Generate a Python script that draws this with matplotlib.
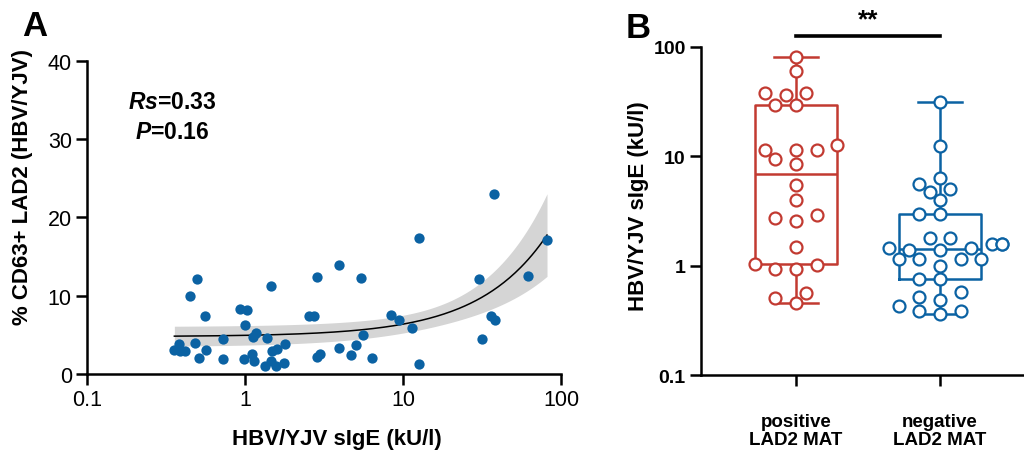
import matplotlib
matplotlib.use("Agg")
import matplotlib.pyplot as plt
import numpy as np

plt.rcParams['font.family'] = ['Liberation Sans', 'DejaVu Sans']
plt.rcParams['mathtext.fontset'] = 'custom'
plt.rcParams['mathtext.bfit'] = 'Liberation Sans:italic:bold'
plt.rcParams['mathtext.it'] = 'Liberation Sans:italic'
plt.rcParams['mathtext.rm'] = 'Liberation Sans'

# panel A: sIgE vs % CD63+ LAD2
sige_a = [37.8, 12.7, 81.5, 3.95, 0.50, 1.47, 2.87, 5.45, 30.1, 61.5,
          0.45, 0.56, 0.93, 1.03, 2.53, 2.73, 8.43, 9.39, 11.4, 36.1,
          38.4, 31.8, 12.6, 1.0, 1.17, 1.12, 1.37, 0.72, 0.48, 0.38,
          0.357, 0.388, 0.419, 0.57, 0.51, 0.73, 0.98, 1.11, 1.14, 1.33,
          1.45, 1.56, 1.77, 1.48, 1.59, 1.78, 2.87, 2.98, 3.95, 4.7,
          5.02, 5.56, 6.34]
cd63 = [23.0, 17.4, 17.1, 13.9, 12.1, 11.3, 12.4, 12.3, 12.2, 12.5,
        10.0, 7.4, 8.3, 8.2, 7.4, 7.4, 7.5, 6.9, 5.9, 7.4,
        6.9, 4.5, 1.3, 6.2, 5.3, 4.7, 4.6, 4.5, 3.9, 3.85,
        3.1, 3.0, 3.0, 3.05, 2.1, 1.86, 1.9, 2.54, 1.6, 0.97,
        1.7, 1.06, 1.44, 2.96, 3.17, 3.8, 2.16, 2.5, 3.35, 2.45,
        3.64, 5.0, 1.99]
rs_text = "0.33"
p_text = "0.16"

# panel B: sIgE by MAT result
groups = ["positive\nLAD2 MAT", "negative\nLAD2 MAT"]
positive = [80.4, 60, 37.9, 37.9, 36, 29.4, 29.4, 11.4, 11.4, 11.4, 12.6,
            9.4, 8.4, 5.4, 3.94, 2.72, 2.57, 2.88, 1.48, 1.03, 1.01, 0.93,
            0.93, 0.564, 0.505, 0.454]
negative = [31.2, 12.4, 6.34, 5.52, 5.0, 4.66, 3.94, 2.96, 2.96, 1.79, 1.78,
            1.58, 1.58, 1.58, 1.44, 1.44, 1.39, 1.39, 1.15, 1.15, 1.15, 1.15,
            0.99, 0.75, 0.75, 0.57, 0.515, 0.487, 0.427, 0.384, 0.384, 0.363]
sig_label = "**"

blue = '#0b62a3'
red = '#c23a31'
lw = 1.8

fig = plt.figure(figsize=(10.24, 4.52), dpi=100)

# ---- panel A
ax = fig.add_axes([0.085, 0.1704, 0.4629, 0.6925])
x = np.array(sige_a)
y = np.array(cd63)
slope, icpt = np.polyfit(x, y, 1)
n = len(x)
resid = y - (icpt + slope * x)
s = np.sqrt(np.sum(resid ** 2) / (n - 2))
sxx = np.sum((x - x.mean()) ** 2)
xf = np.logspace(np.log10(x.min()), np.log10(x.max()), 200)
yf = icpt + slope * xf
se = s * np.sqrt(1 / n + (xf - x.mean()) ** 2 / sxx)
ax.fill_between(xf, yf - 2.007 * se, yf + 2.007 * se, color='#d5d5d5', lw=0, zorder=1)
ax.plot(xf, yf, color='black', lw=1.1, zorder=2)
ax.scatter(x, y, s=55, color=blue, lw=0, zorder=3, clip_on=False)

ax.set_xscale('log')
ax.set_xlim(0.1, 100)
ax.set_ylim(0, 40)
ax.set_xticks([0.1, 1, 10, 100])
ax.set_xticklabels(['0.1', '1', '10', '100'])
ax.set_yticks([0, 10, 20, 30, 40])
ax.minorticks_off()
ax.tick_params(labelsize=15.5, width=lw, length=8, pad=3)
for sp in ['top', 'right']:
    ax.spines[sp].set_visible(False)
for sp in ['left', 'bottom']:
    ax.spines[sp].set_linewidth(lw)
ax.set_xlabel('HBV/YJV sIgE (kU/l)', fontsize=16, fontweight='bold')
ax.xaxis.set_label_coords(0.527, -0.172)
ax.set_ylabel('% CD63+ LAD2 (HBV/YJV)', fontsize=16, fontweight='bold')
ax.yaxis.set_label_coords(-0.114, 0.6)
ax.text(0.18, 0.87, r'$\mathbfit{Rs}$=' + rs_text, transform=ax.transAxes,
        ha='center', va='center', fontsize=16.5, fontweight='bold')
ax.text(0.18, 0.775, r'$\mathbfit{P}$=' + p_text, transform=ax.transAxes,
        ha='center', va='center', fontsize=16.5, fontweight='bold')

# ---- panel B
bx = fig.add_axes([0.6846, 0.1681, 0.3154, 0.7268])
bx.set_yscale('log')
bx.set_ylim(0.1, 100)
bx.set_xlim(-0.66, 1.583)


def swarm(ax, xc, vals, step=10.3, dmin=13.0):
    vals = np.asarray(vals, dtype=float)
    pix = ax.transData.transform(np.column_stack([np.full(len(vals), xc), vals]))
    x0 = pix[0, 0]
    ys = pix[:, 1]
    placed = []
    xs = np.zeros(len(vals))
    for i in np.argsort(vals):
        for k in [0, -1, 1, -2, 2, -3, 3, -4, 4, -5, 5, -6, 6]:
            cx = x0 + k * step
            if all((cx - px) ** 2 + (ys[i] - py) ** 2 >= dmin ** 2 for px, py in placed):
                break
        placed.append((cx, ys[i]))
        xs[i] = cx
    back = ax.transData.inverted().transform(np.column_stack([xs, ys]))
    return back[:, 0]


for pos, vals, col in [(0, positive, red), (1, negative, blue)]:
    v = np.array(vals)
    q1, med, q3 = np.percentile(v, [25, 50, 75], method='weibull')
    stats = [{'med': med, 'q1': q1, 'q3': q3, 'whislo': v.min(), 'whishi': v.max(), 'fliers': []}]
    bx.bxp(stats, positions=[pos], widths=0.57, capwidths=0.31, showfliers=False,
           boxprops=dict(color=col, lw=lw), medianprops=dict(color=col, lw=lw),
           whiskerprops=dict(color=col, lw=lw), capprops=dict(color=col, lw=lw),
           manage_ticks=False)
    xs = swarm(bx, pos, v)
    bx.plot(xs, v, 'o', ms=8.6, mfc='white', mec=col, mew=1.6, ls='none', zorder=4, clip_on=False)

bx.set_xticks([0, 1])
bx.set_xticklabels(groups, fontsize=13.5, fontweight='bold', linespacing=1.15)
bx.set_yticks([0.1, 1, 10, 100])
bx.set_yticklabels(['0.1', '1', '10', '100'], fontsize=14, fontweight='bold')
bx.minorticks_off()
bx.tick_params(axis='y', width=lw, length=8, pad=3)
bx.tick_params(axis='x', width=lw, length=8, pad=19)
for sp in ['top', 'right']:
    bx.spines[sp].set_visible(False)
for sp in ['left', 'bottom']:
    bx.spines[sp].set_linewidth(lw)
bx.set_ylabel('HBV/YJV sIgE (kU/l)', fontsize=16, fontweight='bold')
bx.yaxis.set_label_coords(-0.16, 0.516)

bx.plot([0, 1], [125, 125], color='black', lw=2.6, clip_on=False)
bx.text(0.5, 178, sig_label, ha='center', va='center', fontsize=19, fontweight='bold')

fig.text(22 / 1024, 1 - 27 / 452, 'A', fontsize=25, fontweight='bold', va='center', ha='left')
fig.text(626 / 1024, 1 - 28 / 452, 'B', fontsize=25, fontweight='bold', va='center', ha='left')

fig.savefig('out.png', dpi=100)
